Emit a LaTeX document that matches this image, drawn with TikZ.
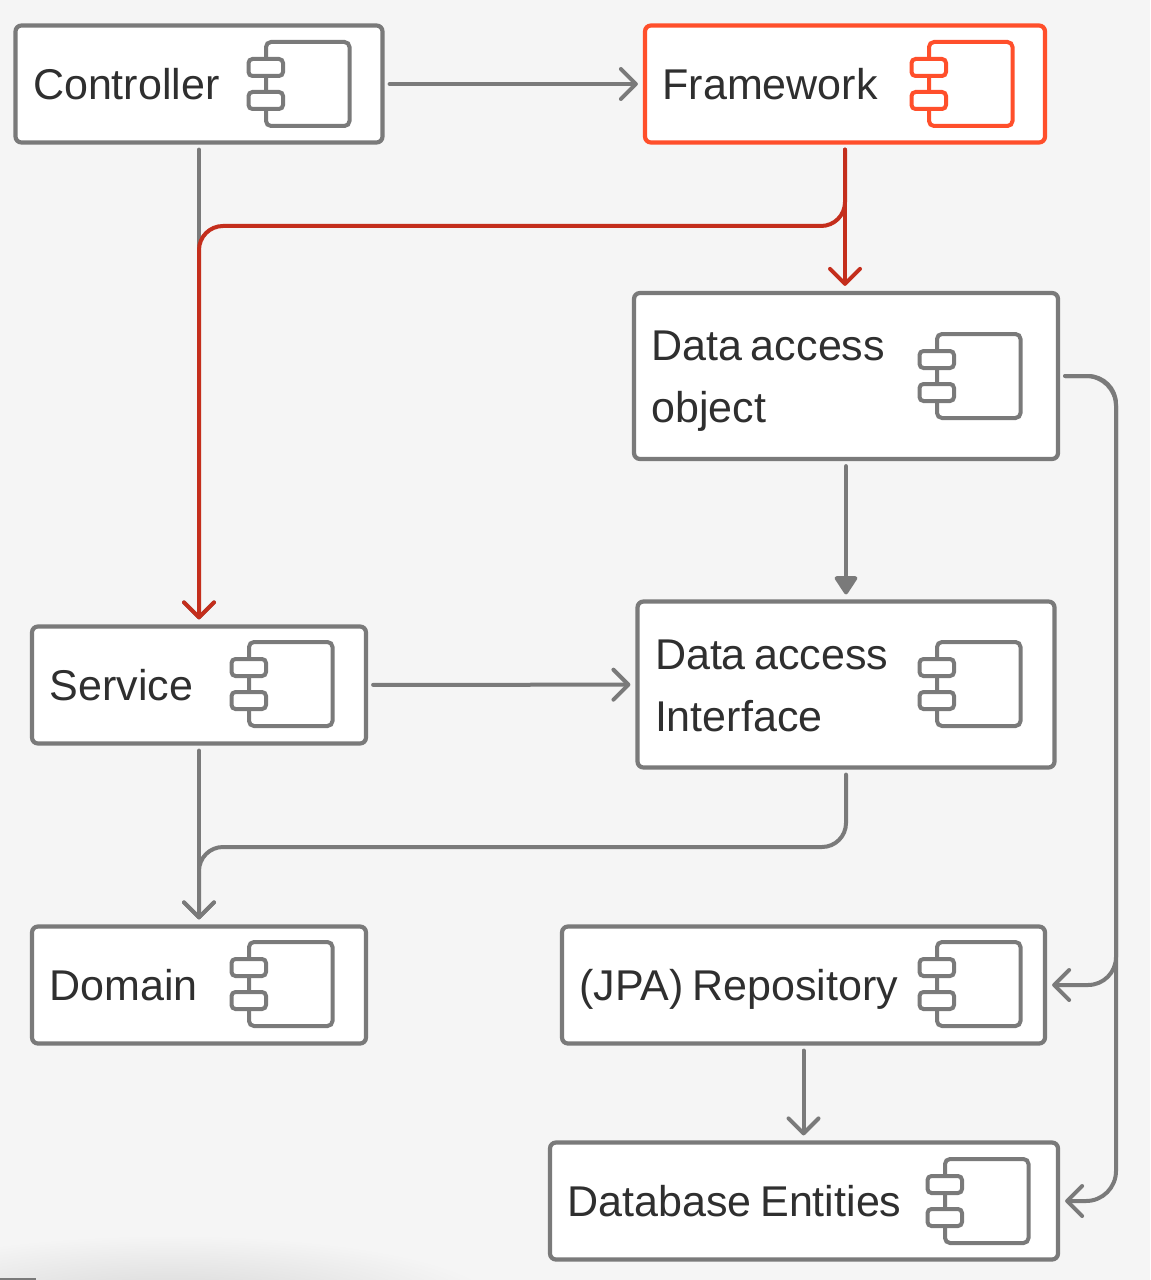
\documentclass[tikz,border=0pt]{standalone}
\usepackage{fontspec}
\setmainfont{Liberation Sans}
\usetikzlibrary{arrows.meta}
\definecolor{pagegray}{HTML}{F5F5F5}
\definecolor{linegray}{HTML}{7A7A7A}
\definecolor{textgray}{HTML}{2F2F2F}
\definecolor{orangeline}{HTML}{FF4F2B}
\definecolor{redline}{HTML}{C42E1C}
\def\px{0.02cm}
\newcommand{\tightspace}{\spaceskip=4.9pt\relax}
\tikzset{
  comp/.style={draw=linegray, fill=white, line width=4.2*\px, rounded corners=6*\px,
    inner sep=0pt, text=textgray, align=left,
    font=\fontsize{24.5pt}{35.3pt}\selectfont,
    execute at begin node={\tightspace\rule[-8pt]{0pt}{34pt}},
    execute at end node=\rule[-8pt]{0pt}{34pt}},
  hot/.style={draw=orangeline},
  conn/.style={draw=linegray, line width=4*\px, line cap=round, rounded corners=24*\px,
    shorten <=5*\px, shorten >=5*\px,
    -{Straight Barb[length=15*\px,width=30*\px,round]}},
  solidconn/.style={conn, -{Triangle[length=20*\px,width=25*\px,round]}},
  redconn/.style={conn, draw=redline},
  pics/icon/.style={code={
    \draw[#1, line width=4*\px, rounded corners=5*\px] (0,0) rectangle (83.5,84);
    \draw[#1, fill=white, line width=4*\px, rounded corners=4*\px] (-17.5,17) rectangle (17,34);
    \draw[#1, fill=white, line width=4*\px, rounded corners=4*\px] (-17.5,50) rectangle (17,67);
  }},
}
\begin{document}
\begin{tikzpicture}[x=0.02cm,y=-0.02cm]
  \useasboundingbox (0,0) rectangle (1150,1280);
  \fill[pagegray] (0,0) rectangle (1150,1280);
  % smudge at the lower edge
  \begin{scope}
    \clip (0,0) rectangle (1150,1280);
    \shade[inner color=black!16, outer color=pagegray] (170,1305) ellipse (330 and 70);
    \fill[linegray] (0,1278) rectangle (36,1280);
  \end{scope}

  \node[comp, minimum width=367*\px, minimum height=117*\px, text width=332*\px] (ctrl) at (199,84) {Controller};
  \node[comp, hot, minimum width=400*\px, minimum height=117*\px, text width=365*\px] (fw) at (845,84) {Framework};
  \node[comp, minimum width=424*\px, minimum height=166*\px, text width=389*\px] (dao) at (846,376) {Data access\\object};
  \node[comp, minimum width=417*\px, minimum height=166*\px, text width=382*\px] (dai) at (846,684.5) {Data access\\Interface};
  \node[comp, minimum width=334*\px, minimum height=117*\px, text width=299*\px] (svc) at (199,685) {Service};
  \node[comp, minimum width=334*\px, minimum height=117*\px, text width=299*\px] (dom) at (199,985) {Domain};
  \node[comp, minimum width=483*\px, minimum height=117*\px, text width=448*\px] (repo) at (803.5,985) {(JPA) Repository};
  \node[comp, minimum width=508*\px, minimum height=117*\px, text width=473*\px] (ent) at (804,1201) {Database Entities};

  \pic at (266,42) {icon=linegray};
  \pic at (929,42) {icon=orangeline};
  \pic at (937,334) {icon=linegray};
  \pic at (937,642) {icon=linegray};
  \pic at (249,642) {icon=linegray};
  \pic at (249,942) {icon=linegray};
  \pic at (937,942) {icon=linegray};
  \pic at (945,1159) {icon=linegray};

  \coordinate (redbus) at (0,226);
  \coordinate (graybus) at (0,847);
  \coordinate (rightbus) at (1116,0);

  \draw[conn] (ctrl) -- (fw);
  \draw[conn] (ctrl) -- (svc);
  \draw[conn] (svc) -- (dai);
  \draw[conn] (svc) -- (dom);
  \draw[solidconn] (dao) -- (dai);
  \draw[conn] (repo) -- (repo |- ent.north);
  \draw[conn] (dai.south) -- (dai.south |- graybus) -- (dom.north |- graybus) -- (dom.north);
  \draw[conn, rounded corners=28*\px] (dao.east) -- (rightbus |- dao.east) -- (rightbus |- repo.east) -- (repo.east);
  \draw[conn, rounded corners=30*\px] (dao.east) -- (rightbus |- dao.east) -- (rightbus |- ent.east) -- (ent.east);
  \draw[redconn] (fw.south) -- (fw.south |- redbus) -- (svc.north |- redbus) -- (svc.north);
  \draw[redconn] (fw) -- (fw |- dao.north);
\end{tikzpicture}
\end{document}
